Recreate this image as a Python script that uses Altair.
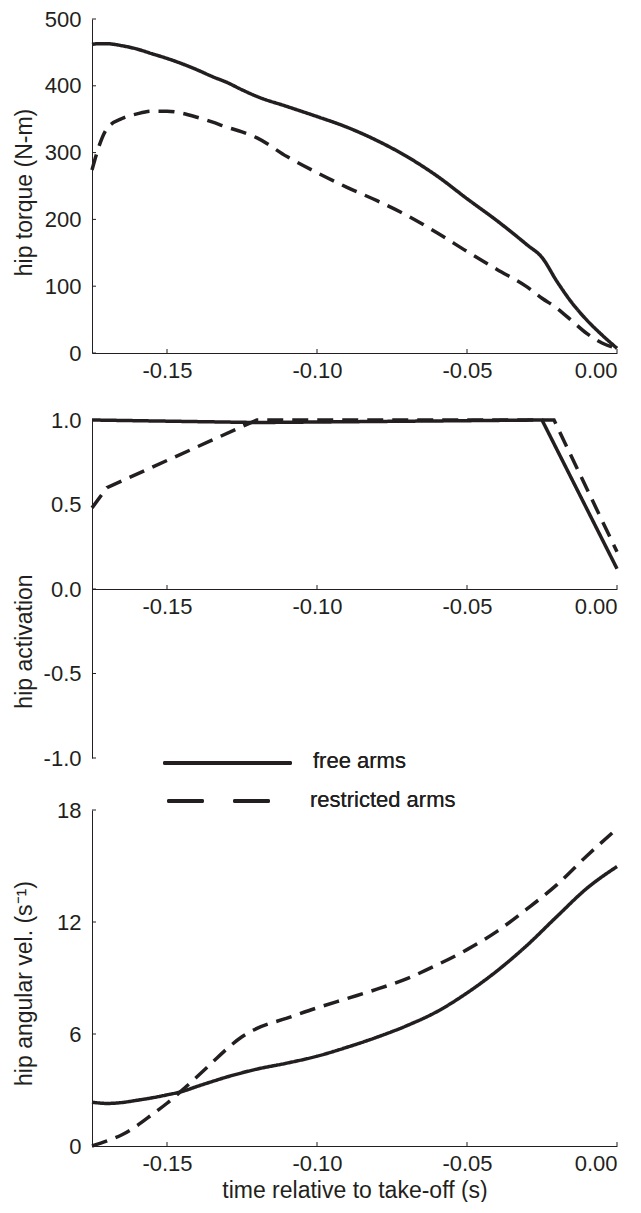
import altair as alt
import pandas as pd

# ---------------- data ----------------
series = ["free arms", "restricted arms"]

t_torque = [-0.175, -0.173, -0.17, -0.165, -0.16, -0.155, -0.15, -0.145, -0.14, -0.135,
            -0.13, -0.125, -0.12, -0.11, -0.10, -0.09, -0.08, -0.07, -0.06, -0.05,
            -0.04, -0.03, -0.025, -0.02, -0.015, -0.01, -0.005, 0.0]
torque_free = [462, 463, 463, 460, 455, 448, 441, 433, 424, 414,
               405, 394, 384, 369, 354, 338, 318, 294, 265, 231,
               198, 162, 143, 107, 75, 49, 27, 7]
torque_restricted = [274, 305, 336, 351, 358, 362, 362, 359, 353, 346,
                     338, 331, 322, 294, 270, 248, 228, 206, 180, 152,
                     125, 99, 82, 67, 48, 29, 15, 7]

act_free_t = [-0.175, -0.12, -0.025, 0.0]
act_free = [1.0, 0.985, 1.0, 0.12]
act_restricted_t = [-0.175, -0.17, -0.122, -0.12, -0.021, 0.0]
act_restricted = [0.48, 0.6, 0.985, 1.0, 1.0, 0.22]

t_vel = [-0.175, -0.17, -0.165, -0.16, -0.155, -0.15, -0.145, -0.14, -0.135, -0.13,
         -0.125, -0.12, -0.11, -0.10, -0.09, -0.08, -0.07, -0.06, -0.05, -0.04,
         -0.03, -0.02, -0.01, 0.0]
vel_free = [2.35, 2.28, 2.33, 2.45, 2.58, 2.74, 2.92, 3.19, 3.45, 3.70,
            3.92, 4.12, 4.44, 4.81, 5.29, 5.83, 6.45, 7.20, 8.20, 9.38,
            10.75, 12.30, 13.81, 14.97]
vel_restricted = [0.0, 0.27, 0.60, 1.09, 1.68, 2.29, 2.98, 3.71, 4.46, 5.21,
                  5.85, 6.30, 6.85, 7.40, 7.90, 8.40, 8.97, 9.70, 10.52, 11.50,
                  12.70, 14.00, 15.55, 17.00]

x_domain = [-0.175, 0.0]
x_ticks = [-0.15, -0.10, -0.05, 0.0]
torque_ticks = [0, 100, 200, 300, 400, 500]
act_ticks = [-1.0, -0.5, 0.0, 0.5, 1.0]
vel_ticks = [0, 6, 12, 18]

y_titles = ["hip torque (N-m)", "hip activation", "hip angular vel. (s\u207b\u00b9)"]
x_title = "time relative to take-off (s)"

# ---------------- styling ----------------
INK = "#231f20"
FONT = "Liberation Sans"
FS = 22
TFS = 23
W = 525
DASHES = [[1, 0], [16, 9]]
HYPHEN_2 = "datum.value < 0 ? '-' + format(-datum.value, '.2f') : format(datum.value, '.2f')"
HYPHEN_1 = "datum.value < 0 ? '-' + format(-datum.value, '.1f') : format(datum.value, '.1f')"


def long_df(tf, yf, tr, yr):
    return pd.DataFrame({
        "t": list(tf) + list(tr),
        "y": list(yf) + list(yr),
        "series": [series[0]] * len(tf) + [series[1]] * len(tr),
    })


def panel(df, y_domain, y_ticks, y_title, title_y, y_label_expr=None,
          y_range=None, x_axis_offset=0, show_x_title=False, x_axis_y=0,
          interpolate="monotone"):
    x_axis_kwargs = dict(values=x_ticks, labelExpr=HYPHEN_2, offset=x_axis_offset,
                         labelPadding=7)
    if show_x_title:
        x = alt.X("t:Q", scale=alt.Scale(domain=x_domain, nice=False, zero=False),
                  axis=alt.Axis(titlePadding=5, **x_axis_kwargs), title=x_title)
    else:
        x = alt.X("t:Q", scale=alt.Scale(domain=x_domain, nice=False, zero=False),
                  axis=alt.Axis(**x_axis_kwargs), title=None)
    y_axis_kwargs = dict(values=y_ticks, titleX=-68, titleY=title_y,
                         titleBaseline="middle", titleAlign="center", labelPadding=11)
    if y_label_expr:
        y_axis_kwargs["labelExpr"] = y_label_expr
    y_scale_kwargs = dict(domain=y_domain, nice=False, zero=False)
    if y_range:
        y_scale_kwargs["range"] = y_range
    y = alt.Y("y:Q", scale=alt.Scale(**y_scale_kwargs), axis=alt.Axis(**y_axis_kwargs),
              title=y_title)

    lines = alt.Chart(df).mark_line(strokeWidth=3.5, color=INK,
                                    interpolate=interpolate).encode(
        x=x, y=y,
        strokeDash=alt.StrokeDash("series:N", scale=alt.Scale(domain=series, range=DASHES),
                                  legend=None),
    )
    xt = alt.Chart(pd.DataFrame({"t": x_ticks})).mark_rule(
        color=INK, strokeWidth=1, y2Offset=-4).encode(
        x=x, y=alt.datum(x_axis_y), y2=alt.datum(x_axis_y))
    yt = alt.Chart(pd.DataFrame({"y": y_ticks})).mark_rule(
        color=INK, strokeWidth=1, x2Offset=4).encode(
        y=y, x=alt.datum(x_domain[0]), x2=alt.datum(x_domain[0]))
    return lines, xt, yt


# panel 1: torque
l1, xt1, yt1 = panel(long_df(t_torque, torque_free, t_torque, torque_restricted),
                     [0, 500], torque_ticks, y_titles[0], 173)
p1 = alt.layer(yt1, xt1, l1).properties(width=W, height=334)

# panel 2: activation (x axis crosses at 0)
l2, xt2, yt2 = panel(long_df(act_free_t, act_free, act_restricted_t, act_restricted),
                     [-1, 1], act_ticks, y_titles[1], 221, y_label_expr=HYPHEN_1,
                     y_range=[338, 0], x_axis_offset=-154, x_axis_y=0,
                     interpolate="linear")

leg_df = pd.DataFrame({"series": series})
leg_solid = alt.Chart(leg_df).mark_rule(strokeWidth=4, color=INK, strokeCap="round").encode(
    x=alt.value(73), x2=alt.value(198), y=alt.value(343))
leg_dash = alt.Chart(leg_df).mark_rule(strokeWidth=4, color=INK, strokeCap="round",
                                       strokeDash=[33, 33]).encode(
    x=alt.value(77), x2=alt.value(176), y=alt.value(381))
leg_t1 = alt.Chart(leg_df).mark_text(align="left", baseline="middle", font=FONT,
                                     fontSize=FS, color=INK).encode(
    x=alt.value(221), y=alt.value(341), text=alt.value(series[0]))
leg_t2 = alt.Chart(leg_df).mark_text(align="left", baseline="middle", font=FONT,
                                     fontSize=FS, color=INK).encode(
    x=alt.value(218), y=alt.value(380), text=alt.value(series[1]))
p2 = alt.layer(yt2, xt2, l2, leg_solid, leg_dash, leg_t1, leg_t2).properties(width=W, height=323)

# panel 3: angular velocity
l3, xt3, yt3 = panel(long_df(t_vel, vel_free, t_vel, vel_restricted),
                     [0, 18], vel_ticks, y_titles[2], 173, show_x_title=True)
p3 = alt.layer(yt3, xt3, l3).properties(width=W, height=336)

chart = alt.vconcat(p1, p2, p3, spacing=67, bounds="flush").properties(
    padding={"left": 5, "top": 0, "right": 0, "bottom": 0}
).configure_view(stroke=None).configure_axis(
    grid=False, ticks=False, tickSize=0, domainColor=INK, domainWidth=1,
    labelFont=FONT, labelFontSize=FS, labelColor=INK,
    titleFont=FONT, titleFontSize=TFS, titleColor=INK, titleFontWeight="normal",
)

chart.save("out.html", embed_options={"renderer": "svg", "actions": False})
